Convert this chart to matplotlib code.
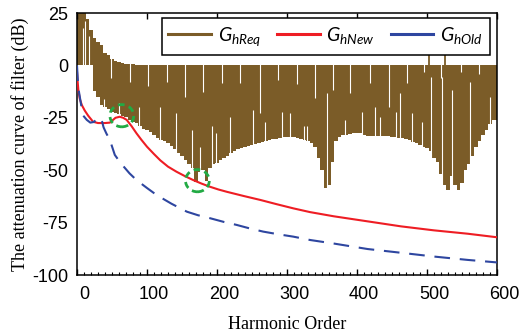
import numpy as np
import matplotlib
matplotlib.use("Agg")
import matplotlib.pyplot as plt
import matplotlib.transforms as mtransforms
from matplotlib.patches import Ellipse
from matplotlib.ticker import MultipleLocator

# ----------------------------------------------------------
# data
# ----------------------------------------------------------
# required attenuation (band between upper and lower edge, every 5 harmonics)
req_h = np.arange(0, 601, 5)
req_high = [25, 25, 25, 22, 17, 13, 11, 9.5, 6, 4.8,
            3.2, 2.2, 1.6, 1.1, 0.8, 0.6, 0.5, 0.4, 0.2] + [0] * 102
req_low = [0, 0, 0, 0, 0, -12, -15, -19, -20, -21,
           -22, -22.5, -23, -24, -24.5, -26, -27, -27.5, -29, -30.5,
           -31, -32, -33, -34.5, -35.5, -36, -37, -38.5, -40, -42,
           -43, -45, -47, -49, -55.5, -51, -50, -55, -49, -47,
           -46.5, -45, -44, -43, -42, -41, -40, -39.5, -39, -38.5,
           -38, -37.5, -37, -36.5, -36, -35.5, -35.3, -35, -34.5, -34.2,
           -34, -34, -34.3, -34.6, -35, -35.5, -36, -37, -38.8, -44,
           -50, -58.6, -57, -46, -36, -34, -33, -33, -32.5, -32.4,
           -32.4, -32.4, -33, -33.5, -33.7, -33.7, -33.7, -33.7, -33.7, -33.8,
           -34, -34.3, -34.6, -34.8, -35, -35.6, -36.4, -37.2, -38, -39,
           -39.6, -41, -44, -46, -52, -57, -59.4, -53, -57, -59.4,
           -56, -50, -47, -43, -39, -36, -33, -31, -28, -26,
           -26]

# thin white gaps in the band: from the top down to a depth
notch_h = [49, 75, 101, 128, 154, 180, 207, 233, 262, 287, 314, 340, 366,
           390, 419, 445, 471, 495, 520, 548, 574]
notch_end = [-6, -8, -10, -8, -15, -12.5, -8.5, -8.5, -22.7, -7, -9, -15.5, -11.7,
             -13, -8.5, -19.7, -8.5, -3, -6, -3, -4]
# thin white gaps rising from below up to a tip
gap_h = [8, 12, 17, 38, 60, 88, 119, 142, 164, 176, 193, 199, 219, 252, 269,
         293, 304, 324, 328, 357, 383, 407, 426, 433, 455, 462, 478, 493, 505,
         522, 535, 562, 590]
gap_tip = [18, 21, 14, -16, -18, -20, -19.7, -22.7, -30.8, -38.8, -29, -32.4, -24.5,
           -21.3, -26.8, -22, -22.7, -29, -29, -13.3, -26, -22, -19.7, -24.5, -22,
           -13, -22.7, -26.8, -5.4, -5.4, -11.7, -8, -15]
# single harmonics reaching above 0 dB
up_h = [503, 526]
up_val = [22, 22]

new_h = [0, 1, 2, 4, 7, 11, 16, 23, 30, 40, 47, 55, 61, 66, 71, 78, 85, 92,
         100, 110, 119, 130, 142, 154, 166, 178, 190, 202, 214, 238, 262, 285,
         309, 333, 350, 367, 415, 463, 510, 558, 600]
new_val = [-3, -8, -12, -16, -19, -21.5, -24, -26.9, -27.5, -27.5, -27.3, -25,
           -24.5, -25, -26, -29, -32.4, -35.5, -38.8, -42.3, -45.3, -48.3, -50.7,
           -52.8, -54.7, -56.4, -57.9, -59.2, -60.3, -62.3, -64.2, -66.2, -68.2,
           -70, -71, -72, -74.4, -76.8, -78.7, -80.3, -82]

old_h = [0, 1, 2, 4, 6, 9, 14, 19, 24, 29, 33, 36, 38, 42, 47, 54, 60, 66, 75,
         85, 100, 114, 135, 157, 173, 190, 210, 228, 247, 266, 288, 309, 333,
         367, 415, 463, 510, 558, 600]
old_val = [0, -6, -11, -15, -19, -24, -26, -27.3, -27, -25.5, -24.8, -27, -29.6,
           -32.5, -35.6, -42.7, -45.5, -48, -51.5, -54.7, -58.5, -61.9, -66, -69.8,
           -71.5, -72.9, -74.7, -76.1, -77.8, -79.3, -80.6, -81.7, -83.3, -85,
           -87.6, -89.4, -91.2, -92.8, -94]

# highlighted spots (centre harmonic, centre dB)
mark_h = [64, 172]
mark_db = [-24, -55]

GOLD = "#7B5C28"
RED = "#EE1D24"
BLUE = "#2E46A0"
GREEN = "#22AA44"

plt.rcParams["mathtext.fontset"] = "custom"
plt.rcParams["mathtext.it"] = "Lato:italic"
plt.rcParams["mathtext.rm"] = "Lato"
plt.rcParams["axes.unicode_minus"] = False

fig = plt.figure(figsize=(5.22, 3.33), dpi=100)
ax = fig.add_axes([77 / 522, 1 - 275 / 333, 420 / 522, 262 / 333])

# required curve as a dense band
ax.fill_between(req_h, req_low, req_high, step="mid", color=GOLD, lw=0, zorder=1)
ax.vlines(notch_h, notch_end, 26, color="white", lw=0.8, zorder=1.5)
ax.vlines(gap_h, -70, gap_tip, color="white", lw=0.8, zorder=1.5)
ax.vlines(up_h, 0, up_val, color=GOLD, lw=1.3, zorder=1.6)

ax.plot(new_h, new_val, color=RED, lw=1.5, zorder=3)
ax.plot(old_h, old_val, color=BLUE, lw=1.5, dashes=(7.5, 4.7), zorder=3)

for cx, cy in zip(mark_h, mark_db):
    ax.add_patch(Ellipse((cx, cy), 34, 10.6, fill=False, ec=GREEN, lw=2.0,
                         ls=(0, (2.4, 1.6)), zorder=4))

# legend entries (solid lines)
h1, = ax.plot([], [], color=GOLD, lw=2.2)
h2, = ax.plot([], [], color=RED, lw=2.2)
h3, = ax.plot([], [], color=BLUE, lw=2.2)
leg = ax.legend([h1, h2, h3], [r"$G_{hReq}$", r"$G_{hNew}$", r"$G_{hOld}$"],
                loc="upper right", bbox_to_anchor=(0.983, 0.981), ncol=3,
                fontsize=14, frameon=True, fancybox=False, framealpha=1,
                edgecolor="black", handlelength=2.2, handletextpad=0.35,
                columnspacing=0.8, borderpad=0.35, borderaxespad=0)
leg.get_frame().set_linewidth(1.1)
leg.set_zorder(10)

ax.set_xlim(0, 600)
ax.set_ylim(-100, 25)
ax.set_xticks([0, 100, 200, 300, 400, 500, 600])
ax.set_yticks([-100, -75, -50, -25, 0, 25])
ax.xaxis.set_minor_locator(MultipleLocator(10))
ax.tick_params(axis="x", which="major", direction="in", length=4, width=1,
               top=True, pad=8, labelsize=13)
ax.tick_params(axis="x", which="minor", direction="in", length=2, width=0.8,
               top=False)
ax.tick_params(axis="y", length=0, pad=6.5, labelsize=13)
for lab in ax.get_xticklabels() + ax.get_yticklabels():
    lab.set_fontfamily("Liberation Sans")
offset = mtransforms.ScaledTranslation(0.07, 0, fig.dpi_scale_trans)
for lab in ax.get_xticklabels():
    lab.set_transform(lab.get_transform() + offset)

for sp in ax.spines.values():
    sp.set_linewidth(1.1)

ax.set_xlabel("Harmonic Order", family="Liberation Serif", fontsize=13, labelpad=9)
ax.set_ylabel("The attenuation curve of filter (dB)", family="Liberation Serif",
              fontsize=13, labelpad=2)

fig.savefig("out.png", dpi=100)
